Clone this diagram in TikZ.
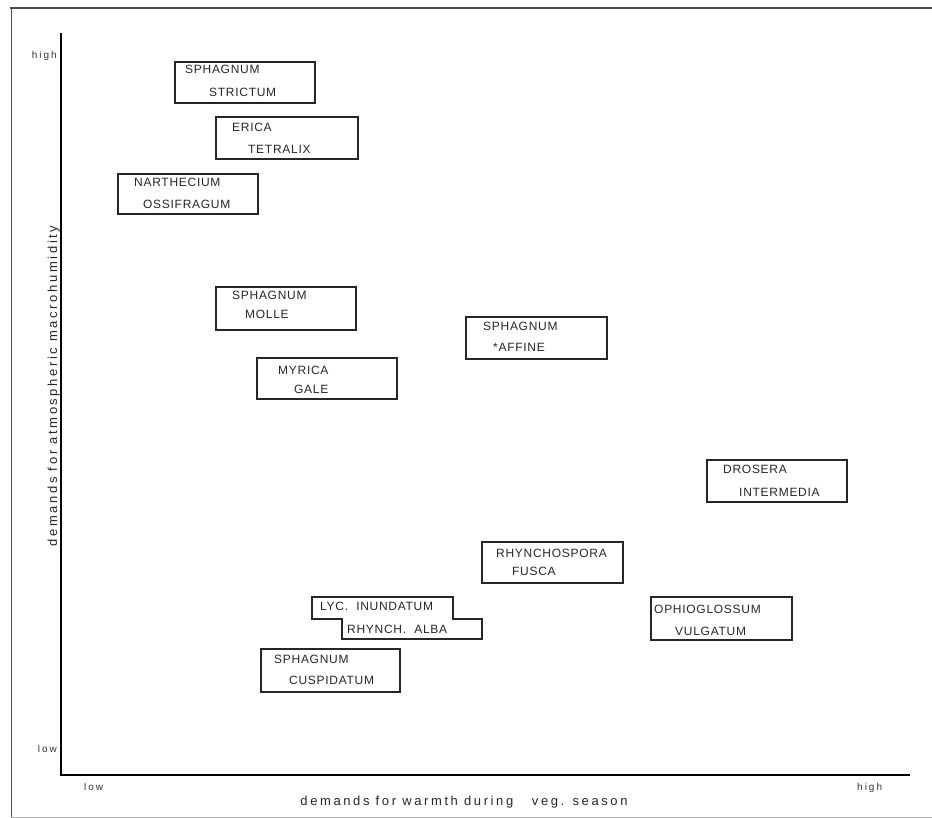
\documentclass[tikz,border=0pt]{standalone}
\usepackage{fontspec}
\setmainfont{Liberation Sans}
\newfontfamily\speciesfont[LetterSpace = 6]{Liberation Sans}
\newfontfamily\axisfont[LetterSpace = 20]{Liberation Sans}
\usetikzlibrary{positioning}

\begin{document}
\begin{tikzpicture}[x = 1pt, y = -1pt,
		species/.style = {anchor = base west, inner sep = 0pt, text = black!85, font = \speciesfont\fontsize{12}{14}\selectfont},
		axislabel/.style = {inner sep = 0pt, text = black!85, font = \axisfont\fontsize{13}{15}\selectfont},
		ticklabel/.style = {inner sep = 0pt, text = black!80, font = \axisfont\fontsize{10}{12}\selectfont},
		box/.style = {black!85, line width = 1.2pt},
		axis/.style = {black, line width = 1.8pt}]
	\useasboundingbox (0, 0) rectangle (932, 818);
	% frame of the scanned page
	\draw [black!70, line width = 1.5pt] (10, 8) -- (932, 8);
	\draw [black!70, line width = 1pt] (11, 8) -- (11, 818);
	\draw [black!30, line width = 0.6pt] (11, 817) -- (932, 817);
	% axes
	\coordinate (origin) at (61, 775);
	\coordinate (ytop) at (61, 33);
	\coordinate (xend) at (910, 775);
	\draw [axis] (ytop) -- (origin) -- (xend);
	\node (yhigh) at (57, 59) [ticklabel, anchor = base east] {high};
	\node (ylow) at (57, 752) [ticklabel, anchor = base east] {low};
	\node (xlow) at (84, 790) [ticklabel, anchor = base west] {low};
	\node (xhigh) at (857, 790) [ticklabel, anchor = base west] {high};
	\node (xlabel) at (464, 805) [axislabel, anchor = base] {demands for warmth during \ \ veg. season};
	\node (ylabel) at (57, 386) [axislabel, anchor = base, rotate = 90] {demands for atmospheric macrohumidity};
	% species boxes
	\draw [box] (175, 62) rectangle (315, 103);
	\node (strictum1) at (185, 74) [species] {SPHAGNUM};
	\node (strictum2) at (209, 97) [species] {STRICTUM};
	\draw [box] (216, 117) rectangle (358, 159);
	\node (erica1) at (232, 132) [species] {ERICA};
	\node (erica2) at (248, 154) [species] {TETRALIX};
	\draw [box] (118, 174) rectangle (258, 214);
	\node (narth1) at (134, 187) [species] {NARTHECIUM};
	\node (narth2) at (143, 209) [species] {OSSIFRAGUM};
	\draw [box] (216, 287) rectangle (356, 330);
	\node (molle1) at (232, 300) [species] {SPHAGNUM};
	\node (molle2) at (245, 319) [species] {MOLLE};
	\draw [box] (257, 358) rectangle (397, 399);
	\node (myrica1) at (278, 374) [species] {MYRICA};
	\node (myrica2) at (294, 393) [species] {GALE};
	\draw [box] (466, 317) rectangle (607, 359);
	\node (affine1) at (483, 331) [species] {SPHAGNUM};
	\node (affine2) at (493, 352) [species] {*AFFINE};
	\draw [box] (707, 460) rectangle (847, 502);
	\node (drosera1) at (723, 473) [species] {DROSERA};
	\node (drosera2) at (739, 496) [species] {INTERMEDIA};
	\draw [box] (482, 542) rectangle (623, 583);
	\node (rhyfusca1) at (496, 557) [species] {RHYNCHOSPORA};
	\node (rhyfusca2) at (512, 575) [species] {FUSCA};
	\draw [box] (651, 597) rectangle (792, 640);
	\node (ophio1) at (654, 613) [species] {OPHIOGLOSSUM};
	\node (ophio2) at (675, 635) [species] {VULGATUM};
	\draw [box] (312, 597) -- (453, 597) -- (453, 619) -- (482, 619) -- (482, 639) -- (342, 639) -- (342, 619) -- (312, 619) -- cycle;
	\node (lyc) at (320, 610) [species] {LYC. \ INUNDATUM};
	\node (rhyalba) at (347, 633) [species] {RHYNCH. \ ALBA};
	\draw [box] (261, 649) rectangle (400, 692);
	\node (cusp1) at (274, 663) [species] {SPHAGNUM};
	\node (cusp2) at (289, 684) [species] {CUSPIDATUM};
\end{tikzpicture}
\end{document}
